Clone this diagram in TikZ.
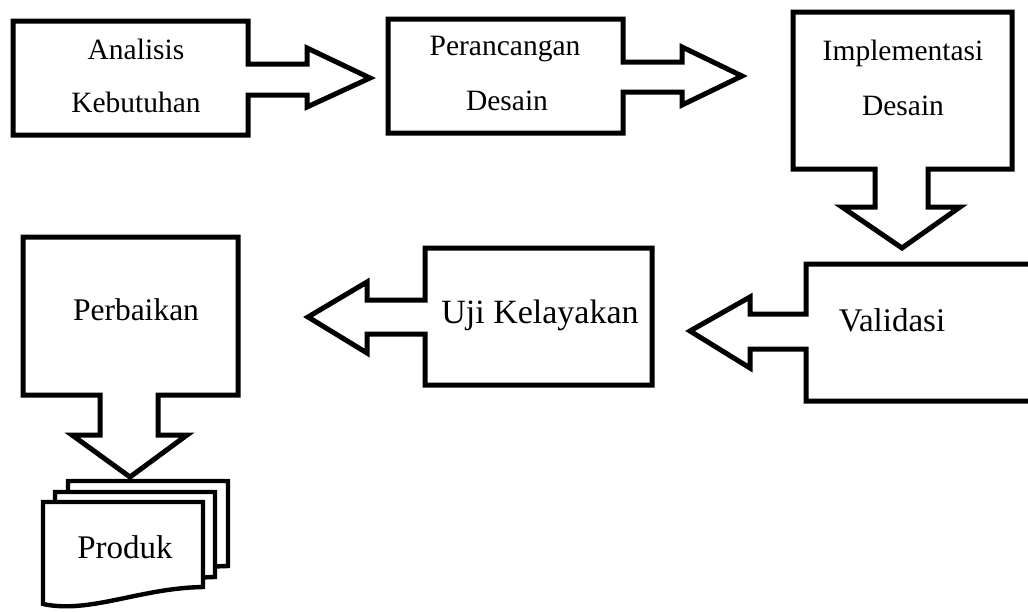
\documentclass[tikz,border=0pt]{standalone}
\usepackage{fontspec}
\setmainfont{Liberation Serif}
\begin{document}
\begin{tikzpicture}[x=1pt,y=-1pt,
  callout/.style={draw=black,fill=white,line width=5pt,miter limit=10},
  docpage/.style={draw=black,fill=white,line width=4.4pt},
  lbl/.style={inner sep=0pt,anchor=base,text=black}]
\useasboundingbox (0,0) rectangle (1028,611);
\clip (0,0) rectangle (1028,611);

% Analisis Kebutuhan, arrow to the right
\draw[callout] (13,21) -- (248,21) -- (248,64) -- (307,64) -- (307,48) -- (370,78)
  -- (307,107) -- (307,95) -- (248,95) -- (248,135) -- (13,135) -- cycle;
% Perancangan Desain, arrow to the right
\draw[callout] (388,19) -- (623,19) -- (623,62) -- (682,62) -- (682,47) -- (742,76)
  -- (682,105) -- (682,92) -- (623,92) -- (623,133) -- (388,133) -- cycle;
% Implementasi Desain, arrow downwards
\draw[callout] (793,12) -- (1012,12) -- (1012,169) -- (928,169) -- (928,207) -- (960,207)
  -- (902,248) -- (842,207) -- (875,207) -- (875,169) -- (793,169) -- cycle;
% Validasi, arrow to the left
\draw[callout] (1040,264) -- (806,264) -- (806,314) -- (750,314) -- (750,297) -- (690,331)
  -- (750,368) -- (750,349) -- (806,349) -- (806,401) -- (1040,401) -- cycle;
% Uji Kelayakan, arrow to the left
\draw[callout] (425,248) -- (652,248) -- (652,385) -- (425,385) -- (425,334) -- (367,334)
  -- (367,353) -- (308,317) -- (367,282) -- (367,300) -- (425,300) -- cycle;
% Perbaikan, arrow downwards
\draw[callout] (23,237) -- (238,237) -- (238,395) -- (158,395) -- (158,435) -- (187,435)
  -- (130,477) -- (72,435) -- (100,435) -- (100,395) -- (23,395) -- cycle;

% Produk: stack of three pages, back to front
\foreach \dx/\dy in {25/-21, 12/-10, 0/0}{
  \draw[docpage,shift={(\dx,\dy)}] (43,502) -- (203,502) -- (203,587)
    .. controls (140,588) and (90,614) .. (43,604) -- cycle;
}

% labels
\node[lbl,font=\fontsize{29.5}{29.5}\selectfont] (t1a) at (136,59) {Analisis};
\node[lbl,font=\fontsize{29.5}{29.5}\selectfont] (t1b) at (136,112) {Kebutuhan};
\node[lbl,font=\fontsize{29.5}{29.5}\selectfont] (t2a) at (505,55) {Perancangan};
\node[lbl,font=\fontsize{29.5}{29.5}\selectfont] (t2b) at (507,110) {Desain};
\node[lbl,font=\fontsize{29.5}{29.5}\selectfont] (t3a) at (903,60) {Implementasi};
\node[lbl,font=\fontsize{29.5}{29.5}\selectfont] (t3b) at (903,115) {Desain};
\node[lbl,font=\fontsize{33}{33}\selectfont] (t4) at (892,331) {Validasi};
\node[lbl,font=\fontsize{34}{34}\selectfont] (t5) at (540,323) {Uji Kelayakan};
\node[lbl,font=\fontsize{31.5}{31.5}\selectfont] (t6) at (136,320) {Perbaikan};
\node[lbl,font=\fontsize{33}{33}\selectfont] (t7) at (125,558) {Produk};
\end{tikzpicture}
\end{document}
